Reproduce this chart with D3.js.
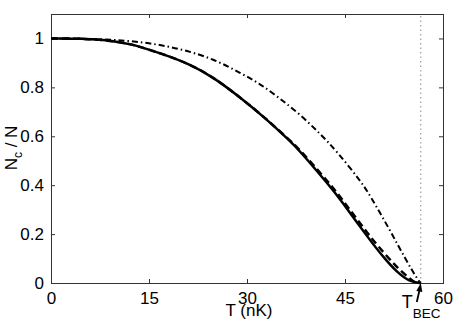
<!DOCTYPE html>
<html>
<head>
<meta charset="utf-8">
<script src="https://cdn.jsdelivr.net/npm/d3@7"></script>
<style>
  body { margin: 0; background: #fff; }
  svg { display: block; font-family: "Liberation Sans", Arial, sans-serif; }
</style>
</head>
<body>
<div id="chart"></div>
<script>
// condensate fraction vs temperature
var tSolid = [0, 5, 7.5, 10, 12.1, 13.6, 16.7, 21.3, 25.1, 28.9, 32.8, 36.6, 38.1, 42.7, 44.2, 48.8, 50.9, 52.9, 54.9, 56.5];
var nSolid = [1, 0.999, 0.995, 0.987, 0.977, 0.966, 0.94, 0.895, 0.837, 0.76, 0.675, 0.58, 0.54, 0.395, 0.345, 0.175, 0.105, 0.045, 0.005, 0];

var tDashed = [0, 5, 7.5, 10, 12.1, 13.6, 16.7, 21.3, 25.1, 28.9, 32.8, 36.6, 38.1, 42.7, 44.2, 48.8, 50.9, 52.9, 54.9, 55.8, 56.5];
var nDashed = [1, 0.999, 0.995, 0.987, 0.977, 0.966, 0.94, 0.895, 0.837, 0.76, 0.675, 0.582, 0.545, 0.405, 0.355, 0.19, 0.125, 0.065, 0.018, 0, 0];

var tIdeal = [0, 5, 10, 15, 20, 25, 28.9, 32, 35, 38.1, 41.2, 43.7, 47.3, 48.8, 51.9, 54.2, 56.2, 56.6];
var nIdeal = [1, 0.999, 0.995, 0.982, 0.957, 0.915, 0.86, 0.815, 0.755, 0.69, 0.61, 0.54, 0.42, 0.36, 0.215, 0.1, 0.01, 0];

var tBEC = 56.6;

var xTicks = [0, 15, 30, 45, 60];
var yTicks = [0, 0.2, 0.4, 0.6, 0.8, 1];
var yTickLabels = ['0', '0.2', '0.4', '0.6', '0.8', '1'];

var W = 457, H = 321;
var margin = { top: 14, right: 14, bottom: 38, left: 51 };
var width = W - margin.left - margin.right;
var height = H - margin.top - margin.bottom;

var svg = d3.select('#chart')
  .append('svg')
    .attr('width', W)
    .attr('height', H)
  .append('g')
    .attr('transform', 'translate(' + margin.left + ',' + margin.top + ')');

var x = d3.scaleLinear().domain([0, 60]).range([0, width]);
var y = d3.scaleLinear().domain([0, 1.1]).range([height, 0]);

// axes, ticks pointing inward
var axisColor = '#333';

var axBottom = svg.append('g')
    .attr('transform', 'translate(0,' + height + ')')
    .call(d3.axisBottom(x).tickValues(xTicks).tickFormat(d3.format('d'))
      .tickSizeInner(-4).tickSizeOuter(0).tickPadding(9));

var axLeft = svg.append('g')
    .call(d3.axisLeft(y).tickValues(yTicks)
      .tickFormat(function (d, i) { return yTickLabels[i]; })
      .tickSizeInner(-4).tickSizeOuter(0).tickPadding(7));

var axTop = svg.append('g')
    .call(d3.axisTop(x).tickValues(xTicks).tickFormat('')
      .tickSizeInner(-4).tickSizeOuter(0));

var axRight = svg.append('g')
    .attr('transform', 'translate(' + width + ',0)')
    .call(d3.axisRight(y).tickValues(yTicks).tickFormat('')
      .tickSizeInner(-4).tickSizeOuter(0));

[axBottom, axLeft, axTop, axRight].forEach(function (g) {
  g.select('.domain').remove();
  g.selectAll('line').attr('stroke', axisColor);
  g.selectAll('text')
    .attr('fill', '#000')
    .style('font-size', '17px')
    .style('font-family', '"Liberation Sans", Arial, sans-serif');
});

svg.append('rect')
    .attr('x', 0.5)
    .attr('y', 0.5)
    .attr('width', width)
    .attr('height', height)
    .attr('fill', 'none')
    .attr('stroke', axisColor)
    .attr('stroke-width', 1);

// dotted line at T_BEC
svg.append('line')
    .attr('x1', x(tBEC)).attr('x2', x(tBEC))
    .attr('y1', y(0)).attr('y2', y(1.1))
    .attr('stroke', '#888')
    .attr('stroke-width', 1)
    .attr('stroke-dasharray', '1.5,3');

var line = d3.line()
    .x(function (d) { return x(d[0]); })
    .y(function (d) { return y(d[1]); })
    .curve(d3.curveBasis);

function pairs(t, n) { return t.map(function (v, i) { return [v, n[i]]; }); }

svg.append('path')
    .attr('d', line(pairs(tIdeal, nIdeal)))
    .attr('fill', 'none')
    .attr('stroke', '#000')
    .attr('stroke-width', 2)
    .attr('stroke-dasharray', '6,3,1.5,3');

svg.append('path')
    .attr('d', line(pairs(tDashed, nDashed)))
    .attr('fill', 'none')
    .attr('stroke', '#000')
    .attr('stroke-width', 2.5)
    .attr('stroke-dasharray', '7,4');

svg.append('path')
    .attr('d', line(pairs(tSolid, nSolid)))
    .attr('fill', 'none')
    .attr('stroke', '#000')
    .attr('stroke-width', 2.5);

// arrow pointing at T_BEC
var tipX = x(tBEC), tipY = y(0);
svg.append('line')
    .attr('x1', tipX - 4).attr('y1', tipY + 19)
    .attr('x2', tipX - 1).attr('y2', tipY + 6)
    .attr('stroke', '#000')
    .attr('stroke-width', 1.8);

svg.append('path')
    .attr('d', 'M' + tipX + ',' + tipY +
               'L' + (tipX - 4.5) + ',' + (tipY + 8) +
               'L' + (tipX + 1.5) + ',' + (tipY + 9) + 'Z')
    .attr('fill', '#000');

var tl = svg.append('text')
    .attr('x', tipX - 19)
    .attr('y', tipY + 25)
    .attr('fill', '#000')
    .style('font-size', '18px');
tl.append('tspan').text('T');
tl.append('tspan').attr('dy', 10).style('font-size', '13.5px').text('BEC');

// axis labels
svg.append('text')
    .attr('x', x(30) + 2)
    .attr('y', height + 33)
    .attr('text-anchor', 'middle')
    .attr('fill', '#000')
    .style('font-size', '17px')
    .text('T (nK)');

var yl = svg.append('text')
    .attr('transform', 'translate(' + (17 - margin.left) + ',' + (148 - margin.top) + ') rotate(-90)')
    .attr('text-anchor', 'middle')
    .attr('fill', '#000')
    .style('font-size', '17px');
yl.append('tspan').text('N');
yl.append('tspan').attr('dy', 5).style('font-size', '12px').text('c');
yl.append('tspan').attr('dy', -5).text(' / N');
</script>
</body>
</html>
